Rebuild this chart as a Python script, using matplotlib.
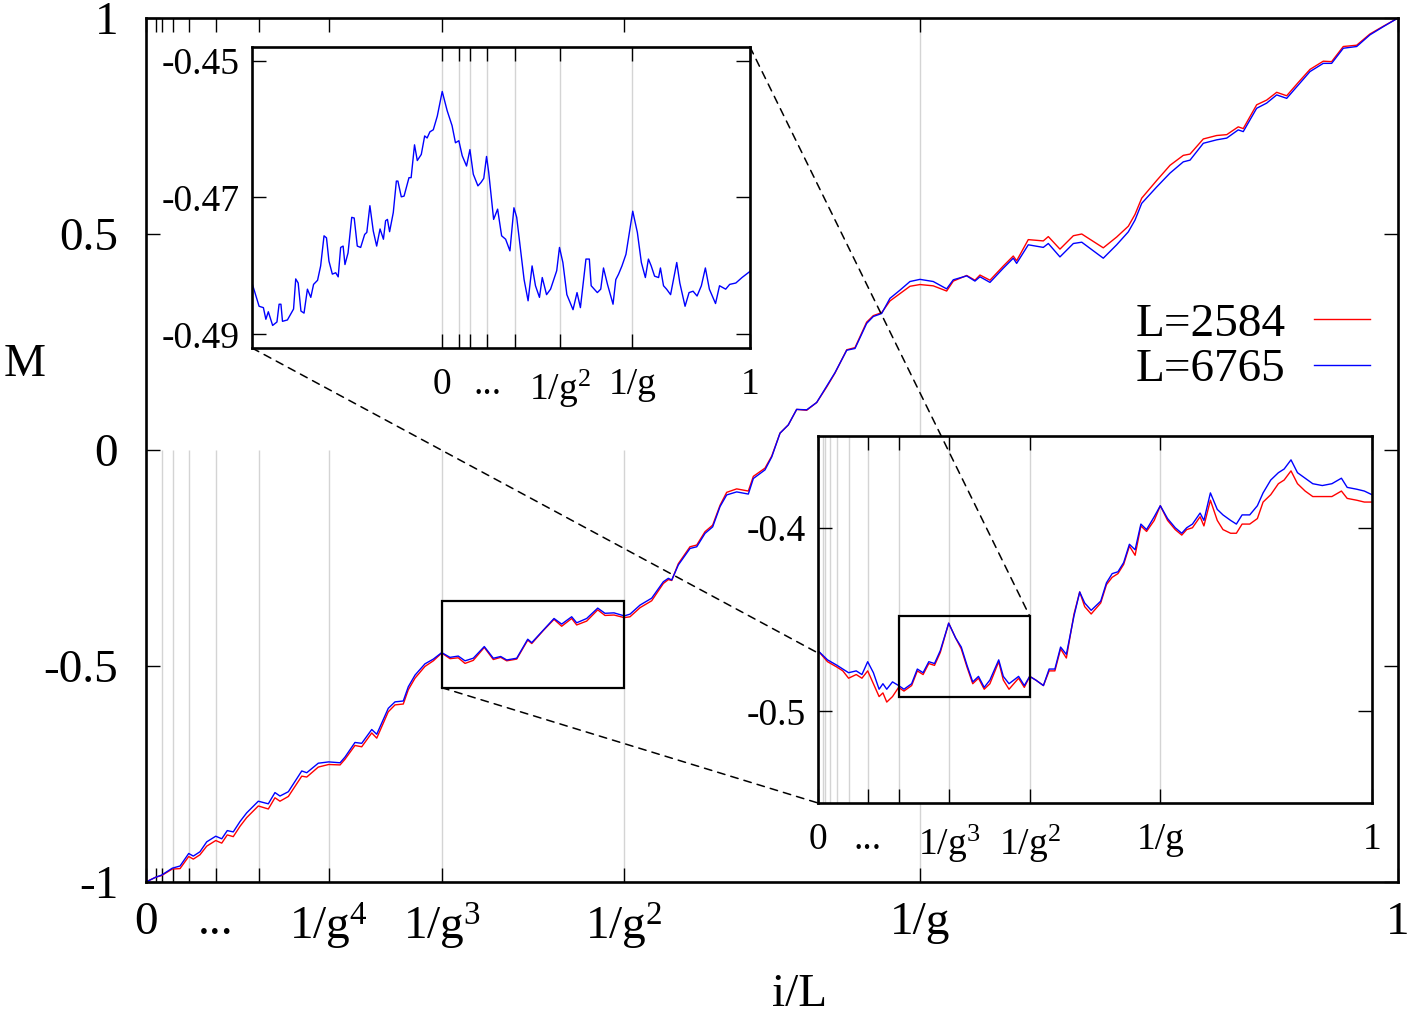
import matplotlib.pyplot as plt
import numpy as np
from matplotlib.patches import Rectangle, ConnectionPatch
from matplotlib.lines import Line2D

plt.rcParams['font.family'] = ['Liberation Serif', 'DejaVu Serif']
plt.rcParams['mathtext.fontset'] = 'custom'
plt.rcParams['mathtext.rm'] = 'Liberation Serif'
plt.rcParams['mathtext.default'] = 'rm'
plt.rcParams['axes.unicode_minus'] = False

g = (1 + np.sqrt(5)) / 2

# ---- main curve, M against i/L ----
main_x = [0.0, 0.0077, 0.0125, 0.0210, 0.0272, 0.0341, 0.0378, 0.0431, 0.0485, 0.0557,
          0.0605, 0.0649, 0.0697, 0.0751, 0.0804, 0.0897, 0.0977, 0.1030, 0.1070, 0.1137,
          0.1244, 0.1284, 0.1376, 0.1459, 0.1550, 0.1589, 0.1669, 0.1723, 0.1803, 0.1843,
          0.1935, 0.1989, 0.2055, 0.2095, 0.2149, 0.2228, 0.2295, 0.2362, 0.2428, 0.2494,
          0.2548, 0.2614, 0.2702, 0.2774, 0.2833, 0.2881, 0.2961, 0.3049, 0.3081, 0.3173,
          0.3259, 0.3320, 0.3400, 0.3440, 0.3520, 0.3608, 0.3666, 0.3738, 0.3820, 0.3866,
          0.3946, 0.4039, 0.4132, 0.4172, 0.4199, 0.4252, 0.4345, 0.4399, 0.4465, 0.4526,
          0.4585, 0.4638, 0.4718, 0.4811, 0.4851, 0.4944, 0.4998, 0.5064, 0.5130, 0.5197,
          0.5277, 0.5357, 0.5437, 0.5503, 0.5597, 0.5663, 0.5756, 0.5809, 0.5876, 0.5942,
          0.6022, 0.6102, 0.6182, 0.6288, 0.6395, 0.6448, 0.6555, 0.6621, 0.6661, 0.6741,
          0.6848, 0.6927, 0.6954, 0.7047, 0.7167, 0.7207, 0.7300, 0.7407, 0.7474, 0.7646,
          0.7753, 0.7846, 0.7899, 0.7953, 0.8073, 0.8179, 0.8285, 0.8339, 0.8445, 0.8552,
          0.8632, 0.8724, 0.8764, 0.8871, 0.8951, 0.9031, 0.9111, 0.9204, 0.9297, 0.9403,
          0.9470, 0.9563, 0.9670, 0.9776, 0.9883, 1.0]
main_m_6765 = [-1.000, -0.989, -0.984, -0.968, -0.963, -0.934, -0.940, -0.930, -0.907, -0.894,
               -0.900, -0.881, -0.884, -0.860, -0.840, -0.813, -0.819, -0.793, -0.801, -0.791,
               -0.743, -0.747, -0.725, -0.722, -0.724, -0.711, -0.677, -0.679, -0.647, -0.658,
               -0.598, -0.583, -0.581, -0.548, -0.521, -0.495, -0.484, -0.469, -0.480, -0.477,
               -0.488, -0.482, -0.455, -0.482, -0.478, -0.486, -0.482, -0.438, -0.446, -0.417,
               -0.390, -0.403, -0.386, -0.400, -0.390, -0.366, -0.378, -0.377, -0.384, -0.380,
               -0.359, -0.343, -0.305, -0.297, -0.301, -0.266, -0.228, -0.224, -0.193, -0.178,
               -0.131, -0.104, -0.097, -0.102, -0.066, -0.046, -0.016, 0.039, 0.058, 0.094,
               0.093, 0.110, 0.148, 0.179, 0.231, 0.235, 0.293, 0.309, 0.316, 0.351,
               0.370, 0.390, 0.395, 0.390, 0.373, 0.394, 0.403, 0.391, 0.401, 0.388,
               0.421, 0.444, 0.432, 0.475, 0.469, 0.478, 0.447, 0.478, 0.481, 0.444,
               0.475, 0.505, 0.532, 0.571, 0.609, 0.641, 0.667, 0.671, 0.710, 0.718,
               0.722, 0.741, 0.737, 0.791, 0.803, 0.822, 0.814, 0.845, 0.876, 0.895,
               0.895, 0.930, 0.934, 0.961, 0.980, 1.000]
main_m_2584 = [-1.000, -0.989, -0.985, -0.970, -0.969, -0.941, -0.947, -0.937, -0.917, -0.904,
               -0.910, -0.891, -0.895, -0.871, -0.851, -0.824, -0.831, -0.805, -0.813, -0.802,
               -0.755, -0.757, -0.734, -0.728, -0.729, -0.716, -0.684, -0.687, -0.655, -0.667,
               -0.606, -0.590, -0.588, -0.555, -0.528, -0.501, -0.488, -0.470, -0.483, -0.481,
               -0.494, -0.487, -0.457, -0.485, -0.480, -0.488, -0.484, -0.440, -0.448, -0.418,
               -0.392, -0.408, -0.390, -0.405, -0.396, -0.370, -0.383, -0.382, -0.388, -0.386,
               -0.365, -0.349, -0.309, -0.300, -0.302, -0.263, -0.224, -0.220, -0.189, -0.174,
               -0.128, -0.098, -0.090, -0.095, -0.061, -0.042, -0.014, 0.039, 0.058, 0.094,
               0.092, 0.110, 0.146, 0.178, 0.232, 0.237, 0.296, 0.311, 0.318, 0.345,
               0.362, 0.379, 0.383, 0.380, 0.368, 0.391, 0.404, 0.393, 0.405, 0.393,
               0.426, 0.449, 0.438, 0.487, 0.484, 0.494, 0.465, 0.496, 0.500, 0.468,
               0.493, 0.518, 0.545, 0.583, 0.624, 0.659, 0.682, 0.685, 0.720, 0.728,
               0.730, 0.748, 0.744, 0.799, 0.810, 0.828, 0.820, 0.851, 0.881, 0.900,
               0.899, 0.934, 0.937, 0.963, 0.981, 1.000]

# ---- lower right inset: the boxed part 1/g^3 .. 1/g^2, rescaled to 0..1 ----
zoom1_t = [0.0, 0.0172, 0.0345, 0.0448, 0.0552, 0.0690, 0.0793, 0.0897, 0.1000, 0.1103,
           0.1172, 0.1241, 0.1345, 0.1455, 0.1552, 0.1690, 0.1793, 0.1897, 0.2000, 0.2103,
           0.2207, 0.2359, 0.2483, 0.2586, 0.2690, 0.2793, 0.2897, 0.3000, 0.3103, 0.3262,
           0.3345, 0.3448, 0.3621, 0.3724, 0.3821, 0.3931, 0.4069, 0.4172, 0.4276, 0.4379,
           0.4483, 0.4621, 0.4724, 0.4814, 0.4931, 0.5103, 0.5207, 0.5310, 0.5414, 0.5517,
           0.5621, 0.5724, 0.5828, 0.5931, 0.6069, 0.6179, 0.6310, 0.6448, 0.6566, 0.6655,
           0.6759, 0.6897, 0.6966, 0.7083, 0.7207, 0.7310, 0.7448, 0.7552, 0.7655, 0.7793,
           0.7931, 0.8034, 0.8172, 0.8310, 0.8414, 0.8538, 0.8655, 0.8793, 0.8931, 0.9103,
           0.9276, 0.9448, 0.9552, 0.9724, 0.9862, 1.0]
zoom1_m_6765 = [-0.467, -0.472, -0.475, -0.477, -0.479, -0.478, -0.480, -0.473, -0.479, -0.488,
                -0.485, -0.488, -0.484, -0.486, -0.488, -0.485, -0.477, -0.479, -0.473, -0.474,
                -0.467, -0.452, -0.460, -0.465, -0.475, -0.484, -0.481, -0.487, -0.483, -0.472,
                -0.481, -0.485, -0.481, -0.486, -0.481, -0.483, -0.486, -0.477, -0.477, -0.465,
                -0.469, -0.448, -0.435, -0.441, -0.445, -0.440, -0.430, -0.425, -0.424, -0.419,
                -0.409, -0.412, -0.398, -0.401, -0.394, -0.388, -0.395, -0.400, -0.403, -0.400,
                -0.398, -0.392, -0.396, -0.381, -0.390, -0.393, -0.396, -0.398, -0.393, -0.393,
                -0.388, -0.381, -0.374, -0.370, -0.368, -0.363, -0.370, -0.373, -0.376, -0.377,
                -0.376, -0.373, -0.378, -0.379, -0.380, -0.382]
zoom1_m_2584 = [-0.467, -0.473, -0.476, -0.478, -0.482, -0.480, -0.482, -0.478, -0.485, -0.492,
                -0.490, -0.495, -0.492, -0.487, -0.489, -0.486, -0.478, -0.480, -0.474, -0.475,
                -0.468, -0.452, -0.460, -0.466, -0.476, -0.485, -0.482, -0.488, -0.485, -0.473,
                -0.483, -0.488, -0.482, -0.487, -0.481, -0.483, -0.486, -0.478, -0.478, -0.466,
                -0.471, -0.447, -0.435, -0.443, -0.447, -0.441, -0.431, -0.427, -0.425, -0.420,
                -0.410, -0.415, -0.399, -0.402, -0.396, -0.388, -0.396, -0.401, -0.404, -0.401,
                -0.400, -0.394, -0.399, -0.385, -0.396, -0.401, -0.403, -0.403, -0.398, -0.398,
                -0.395, -0.386, -0.382, -0.376, -0.374, -0.369, -0.376, -0.380, -0.383, -0.383,
                -0.383, -0.380, -0.384, -0.385, -0.386, -0.386]

# ---- upper left inset: second zoom, L=6765 only ----
zoom2_s = [-0.618, -0.595, -0.581, -0.573, -0.565, -0.551, -0.537, -0.530, -0.524, -0.519,
           -0.503, -0.483, -0.476, -0.468, -0.459, -0.449, -0.438, -0.427, -0.418, -0.405,
           -0.395, -0.384, -0.376, -0.368, -0.357, -0.346, -0.338, -0.330, -0.322, -0.316,
           -0.306, -0.294, -0.286, -0.276, -0.265, -0.252, -0.245, -0.235, -0.224, -0.213,
           -0.202, -0.191, -0.184, -0.178, -0.171, -0.159, -0.149, -0.144, -0.133, -0.124,
           -0.108, -0.101, -0.090, -0.081, -0.068, -0.057, -0.049, -0.040, -0.029, -0.016,
           0.000, 0.016, 0.032, 0.043, 0.054, 0.065, 0.079, 0.090, 0.101, 0.116,
           0.126, 0.135, 0.144, 0.151, 0.159, 0.167, 0.180, 0.193, 0.206, 0.220,
           0.233, 0.242, 0.253, 0.266, 0.279, 0.292, 0.303, 0.316, 0.325, 0.339,
           0.352, 0.372, 0.381, 0.392, 0.405, 0.425, 0.438, 0.449, 0.467, 0.478,
           0.484, 0.504, 0.515, 0.524, 0.537, 0.555, 0.564, 0.573, 0.584, 0.597,
           0.608, 0.619, 0.634, 0.647, 0.660, 0.670, 0.679, 0.690, 0.703, 0.709,
           0.719, 0.729, 0.742, 0.762, 0.772, 0.789, 0.802, 0.815, 0.828, 0.842,
           0.855, 0.868, 0.888, 0.901, 0.921, 0.934, 0.954, 0.974, 0.994, 1.0]
zoom2_m_6765 = [-0.4825, -0.4859, -0.4861, -0.4878, -0.4867, -0.4887, -0.4882, -0.4856, -0.4856, -0.4881,
                -0.4879, -0.4863, -0.4819, -0.4825, -0.4866, -0.4869, -0.4834, -0.4846, -0.4827, -0.4821,
                -0.4800, -0.4756, -0.4759, -0.4793, -0.4812, -0.4810, -0.4816, -0.4773, -0.4771, -0.4798,
                -0.4781, -0.4729, -0.4730, -0.4771, -0.4773, -0.4754, -0.4751, -0.4712, -0.4749, -0.4771,
                -0.4746, -0.4761, -0.4734, -0.4732, -0.4750, -0.4722, -0.4676, -0.4676, -0.4699, -0.4698,
                -0.4671, -0.4671, -0.4623, -0.4646, -0.4637, -0.4610, -0.4613, -0.4604, -0.4601, -0.4581,
                -0.4545, -0.4573, -0.4595, -0.4620, -0.4617, -0.4639, -0.4654, -0.4630, -0.4666, -0.4683,
                -0.4678, -0.4672, -0.4640, -0.4663, -0.4698, -0.4732, -0.4717, -0.4756, -0.4761, -0.4778,
                -0.4715, -0.4729, -0.4771, -0.4820, -0.4851, -0.4800, -0.4829, -0.4846, -0.4817, -0.4842,
                -0.4834, -0.4807, -0.4773, -0.4795, -0.4842, -0.4864, -0.4839, -0.4861, -0.4790, -0.4790,
                -0.4829, -0.4839, -0.4834, -0.4803, -0.4827, -0.4856, -0.4820, -0.4812, -0.4800, -0.4783,
                -0.4751, -0.4720, -0.4751, -0.4795, -0.4817, -0.4790, -0.4800, -0.4815, -0.4817, -0.4803,
                -0.4829, -0.4834, -0.4842, -0.4795, -0.4825, -0.4859, -0.4839, -0.4837, -0.4844, -0.4829,
                -0.4803, -0.4834, -0.4855, -0.4829, -0.4834, -0.4827, -0.4825, -0.4817, -0.4810, -0.4808]

labels_series = ['L=2584', 'L=6765']
main_xticklabels = {0: '0', 6: '...', 4: r'1/g$^{4}$', 3: r'1/g$^{3}$', 2: r'1/g$^{2}$', 1: '1/g'}
zoom1_xticklabels = {5: '...', 3: r'1/g$^{3}$', 2: r'1/g$^{2}$', 1: '1/g'}
zoom2_xticklabels = {4: '...', 2: r'1/g$^{2}$', 1: '1/g'}

RED = '#ff0000'
BLUE = '#0000ff'
GRID = '#d4d4d4'
W, H = 1409, 1015


def frame(px_left, px_top, px_right, px_bottom):
    return [px_left / W, 1 - px_bottom / H, (px_right - px_left) / W, (px_bottom - px_top) / H]


def style_axes(a, size, ypad, xpad):
    for sp in a.spines.values():
        sp.set_linewidth(1.9)
    a.tick_params(direction='in', length=10, width=1.0, top=True, right=True,
                  labelsize=size, colors='black')
    a.tick_params(axis='y', pad=ypad)
    a.tick_params(axis='x', pad=xpad)


def gold_ticks(a, kmax, labels, right_label='1'):
    pos = [0.0] + [g ** -k for k in range(kmax, 0, -1)] + [1.0]
    labs = ['0'] + [labels.get(k, '') for k in range(kmax, 0, -1)] + [right_label]
    a.set_xticks(pos)
    a.set_xticklabels(labs)


fig = plt.figure(figsize=(W / 100, H / 100), dpi=100)

# ---------------- main panel ----------------
ax = fig.add_axes(frame(146, 18, 1398, 882))
ax.set_xlim(0, 1)
ax.set_ylim(-1, 1)
ax.vlines([g ** -k for k in range(2, 10)], -1, 0, color=GRID, lw=1.0, zorder=0.5)
ax.axvline(1 / g, color=GRID, lw=1.0, zorder=0.5)
l_red, = ax.plot(main_x, main_m_2584, color=RED, lw=1.0, label=labels_series[0])
l_blue, = ax.plot(main_x, main_m_6765, color=BLUE, lw=1.0, label=labels_series[1])
ax.add_patch(Rectangle((g ** -3, -0.55), g ** -2 - g ** -3, 0.2, fill=False,
                       ec='black', lw=1.6, zorder=3))
style_axes(ax, 34, 20, 14)
gold_ticks(ax, 10, {0: '0', 6: '...', 4: r'1/g$^{4}$', 3: r'1/g$^{3}$', 2: r'1/g$^{2}$', 1: '1/g'})
ax.set_yticks([-1, -0.5, 0, 0.5, 1])
ax.set_yticklabels(['-1', '-0.5', '0', '0.5', '1'])
ax.set_xlabel('i/L', fontsize=34, va='center')
ax.xaxis.set_label_coords(0.522, -0.131)
ax.set_ylabel('M', fontsize=34, rotation=0, ha='center', va='center')
ax.yaxis.set_label_coords(-0.097, 0.599)

ax.legend(handles=[l_red, l_blue], loc='center right', bbox_to_anchor=(0.978, 0.619),
          frameon=False, fontsize=34, markerfirst=False, handlelength=1.2,
          handletextpad=0.6, labelspacing=0.05, borderpad=0, borderaxespad=0)

# ---------------- lower right inset ----------------
ax2 = fig.add_axes(frame(818, 436, 1372, 803))
ax2.set_xlim(0, 1)
ax2.set_ylim(-0.55, -0.35)
ax2.vlines([g ** -k for k in range(1, 11)], -0.55, -0.35, color=GRID, lw=1.0, zorder=0.5)
ax2.plot(zoom1_t, zoom1_m_2584, color=RED, lw=1.0)
ax2.plot(zoom1_t, zoom1_m_6765, color=BLUE, lw=1.0)
ax2.add_patch(Rectangle((g ** -4, -0.492), g ** -2 - g ** -4, 0.044, fill=False,
                        ec='black', lw=1.6, zorder=3))
style_axes(ax2, 27, 9, 14)
gold_ticks(ax2, 5, zoom1_xticklabels)
ax2.set_yticks([-0.5, -0.4])
ax2.set_yticklabels(['-0.5', '-0.4'])

# ---------------- upper left inset ----------------
ax1 = fig.add_axes(frame(252, 47, 750, 348))
ax1.set_xlim(-1 / g, 1)
ax1.set_ylim(-0.492, -0.448)
ax1.vlines([0.0] + [g ** -k for k in range(1, 7)], -0.492, -0.448, color=GRID, lw=1.0, zorder=0.5)
ax1.plot(zoom2_s, zoom2_m_6765, color=BLUE, lw=1.0)
style_axes(ax1, 27, 9, 14)
gold_ticks(ax1, 6, zoom2_xticklabels)
ax1.set_yticks([-0.49, -0.47, -0.45])
ax1.set_yticklabels(['-0.49', '-0.47', '-0.45'])

# ---------------- dashed connectors ----------------
dash = dict(linestyle=(0, (5, 4)), lw=1.1, color='black')
c1 = ConnectionPatch(xyA=(g ** -3, -0.55), coordsA=ax.transData,
                     xyB=(0, 0), coordsB=ax2.transAxes, **dash)
ax.add_artist(c1)
c2 = ConnectionPatch(xyA=(0, 0), coordsA=ax1.transAxes,
                     xyB=(g ** -4, -0.492), coordsB=ax2.transData, **dash)
ax.add_artist(c2)
c3 = ConnectionPatch(xyA=(1, 1), coordsA=ax1.transAxes,
                     xyB=(g ** -2, -0.448), coordsB=ax2.transData, zorder=5, **dash)
fig.add_artist(c3)

fig.savefig('out.png', dpi=100)
